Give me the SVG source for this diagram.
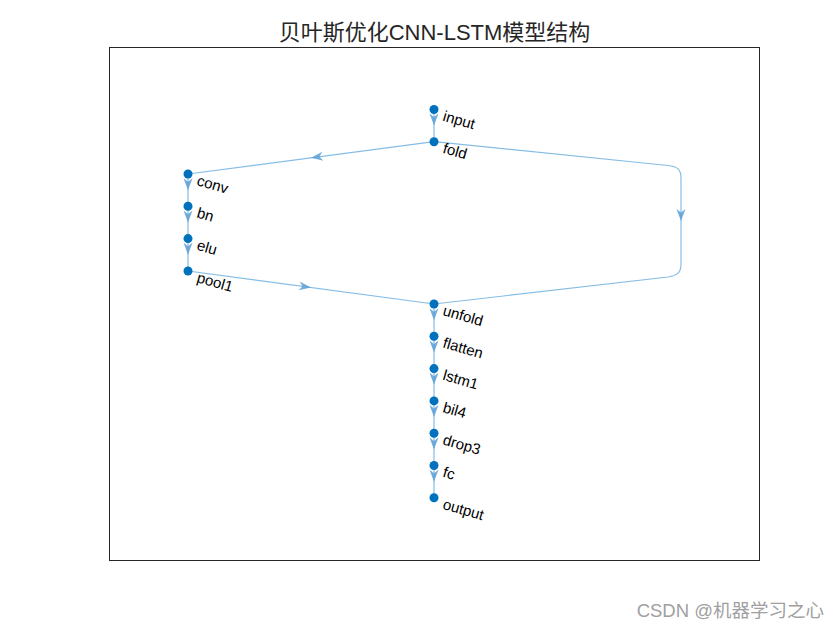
<svg xmlns="http://www.w3.org/2000/svg" xmlns:xlink="http://www.w3.org/1999/xlink" width="840" height="630" viewBox="0 0 840 630">
<style>
.edge{fill:none;stroke:#86bde5;stroke-width:1.2}
.arr{fill:#5b9fd6;fill-opacity:0.85}
.node circle{fill:#0072bd}
.lbl{font-family:"Liberation Sans",Arial,sans-serif;font-size:15px;fill:#000}
.title{font-family:"Liberation Sans","Noto Sans CJK SC",sans-serif;font-size:22px;fill:#262626}
</style>
<defs>
<path id="ah" d="M0,0 L-12,-4.5 L-8.5,0 L-12,4.5 Z"/>
</defs>
<rect x="0" y="0" width="840" height="630" fill="#fff"/>
<rect x="109.5" y="47.5" width="650" height="513" fill="#fff" stroke="#262626" stroke-width="1"/>
<text class="title" x="434.5" y="39.5" text-anchor="middle">贝叶斯优化CNN-LSTM模型结构</text>
<g id="connectors">
<path class="edge" d="M434,109.5 L434,141.7"/>
<path class="edge" d="M434,141.7 L188,174"/>
<path class="edge" d="M434,141.7 L668,165.5 C678,166.5 681,170 681,178 L681,264 C681,272 678,275.5 668,277 L434,304"/>
<path class="edge" d="M188,174 L188,271"/>
<path class="edge" d="M188,271 L434,304"/>
<path class="edge" d="M434,304 L434,498"/>
<use class="arr" xlink:href="#ah" transform="translate(434,125.6) rotate(90)"/>
<use class="arr" xlink:href="#ah" transform="translate(311,157.8) rotate(172.5)"/>
<use class="arr" xlink:href="#ah" transform="translate(681,221) rotate(90)"/>
<use class="arr" xlink:href="#ah" transform="translate(188,190.2) rotate(90)"/>
<use class="arr" xlink:href="#ah" transform="translate(188,222.5) rotate(90)"/>
<use class="arr" xlink:href="#ah" transform="translate(188,254.8) rotate(90)"/>
<use class="arr" xlink:href="#ah" transform="translate(311,287.5) rotate(7.6)"/>
<use class="arr" xlink:href="#ah" transform="translate(434,320.2) rotate(90)"/>
<use class="arr" xlink:href="#ah" transform="translate(434,352.5) rotate(90)"/>
<use class="arr" xlink:href="#ah" transform="translate(434,384.8) rotate(90)"/>
<use class="arr" xlink:href="#ah" transform="translate(434,417.1) rotate(90)"/>
<use class="arr" xlink:href="#ah" transform="translate(434,449.4) rotate(90)"/>
<use class="arr" xlink:href="#ah" transform="translate(434,481.7) rotate(90)"/>
</g>
<g id="input" class="node"><circle cx="434" cy="109.5" r="4.5"/><text class="lbl" transform="translate(442,120.5) rotate(16)">input</text></g>
<g id="fold" class="node"><circle cx="434" cy="141.7" r="4.5"/><text class="lbl" transform="translate(442,152.7) rotate(16)">fold</text></g>
<g id="conv" class="node"><circle cx="188" cy="174" r="4.5"/><text class="lbl" transform="translate(196,185) rotate(16)">conv</text></g>
<g id="bn" class="node"><circle cx="188" cy="206.3" r="4.5"/><text class="lbl" transform="translate(196,217.3) rotate(16)">bn</text></g>
<g id="elu" class="node"><circle cx="188" cy="238.6" r="4.5"/><text class="lbl" transform="translate(196,249.6) rotate(16)">elu</text></g>
<g id="pool1" class="node"><circle cx="188" cy="271" r="4.5"/><text class="lbl" transform="translate(196,282) rotate(16)">pool1</text></g>
<g id="unfold" class="node"><circle cx="434" cy="304" r="4.5"/><text class="lbl" transform="translate(442,315) rotate(16)">unfold</text></g>
<g id="flatten" class="node"><circle cx="434" cy="336.3" r="4.5"/><text class="lbl" transform="translate(442,347.3) rotate(16)">flatten</text></g>
<g id="lstm1" class="node"><circle cx="434" cy="368.6" r="4.5"/><text class="lbl" transform="translate(442,379.6) rotate(16)">lstm1</text></g>
<g id="bil4" class="node"><circle cx="434" cy="400.9" r="4.5"/><text class="lbl" transform="translate(442,411.9) rotate(16)">bil4</text></g>
<g id="drop3" class="node"><circle cx="434" cy="433.2" r="4.5"/><text class="lbl" transform="translate(442,444.2) rotate(16)">drop3</text></g>
<g id="fc" class="node"><circle cx="434" cy="465.5" r="4.5"/><text class="lbl" transform="translate(442,476.5) rotate(16)">fc</text></g>
<g id="output" class="node"><circle cx="434" cy="497.8" r="4.5"/><text class="lbl" transform="translate(442,508.8) rotate(16)">output</text></g>
<text x="824" y="617" text-anchor="end" font-family="Liberation Sans,'Noto Sans CJK SC',sans-serif" font-size="18.5" fill="#a0a0a0">CSDN @机器学习之心</text>
</svg>
